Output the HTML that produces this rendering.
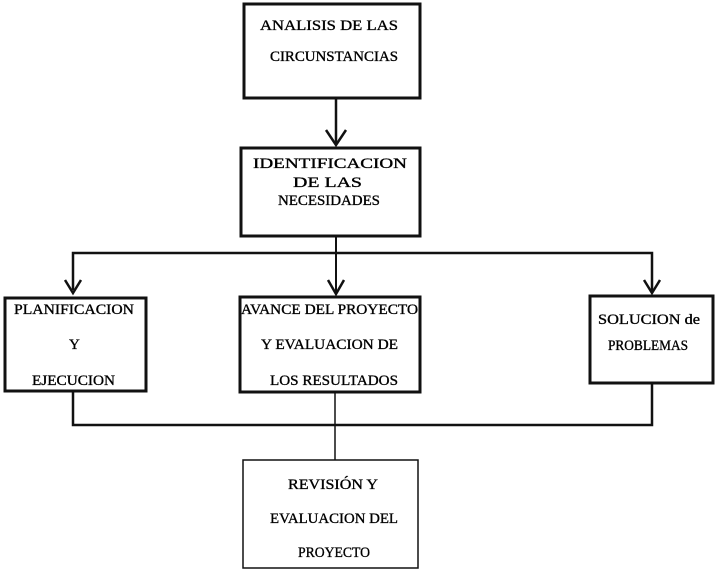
<!DOCTYPE html>
<html><head><meta charset="utf-8"><style>
html,body{margin:0;padding:0;background:#fff;}
svg text{font-family:"Liberation Serif",serif;font-size:15px;fill:#000;stroke:#000;stroke-width:0.35;}
</style></head><body>
<svg width="716" height="575" viewBox="0 0 716 575" xmlns="http://www.w3.org/2000/svg">
<g fill="none" stroke="#111">
<rect x="244" y="4" width="176" height="94" stroke-width="3"/>
<rect x="241" y="148" width="179" height="88" stroke-width="3"/>
<rect x="5" y="298" width="141" height="93" stroke-width="3"/>
<rect x="240" y="297" width="180" height="95" stroke-width="3"/>
<rect x="590" y="296" width="123" height="87" stroke-width="3"/>
<rect x="243" y="460" width="175" height="108" stroke-width="1.5"/>
<line x1="336" y1="98" x2="336" y2="145" stroke-width="2.5"/>
<polyline points="326,130 336,145 346,130" stroke-width="2.5"/>
<line x1="336" y1="236" x2="336" y2="294" stroke-width="2"/>
<polyline points="73,290 73,253 652,253 652,293" stroke-width="2.5"/>
<polyline points="65,280 73,293 81,280" stroke-width="2.5"/>
<polyline points="328,280 336,294 344,280" stroke-width="2.5"/>
<polyline points="644,280 652,293 660,280" stroke-width="2.5"/>
<polyline points="73,391 73,425 652,425 652,383" stroke-width="2.5"/>
<line x1="335" y1="392" x2="335" y2="460" stroke-width="1.5"/>
</g>
<text x="260" y="30" textLength="138" lengthAdjust="spacingAndGlyphs">ANALISIS DE LAS</text>
<text x="270" y="61" textLength="128" lengthAdjust="spacingAndGlyphs">CIRCUNSTANCIAS</text>
<text x="253" y="168" textLength="154" lengthAdjust="spacingAndGlyphs">IDENTIFICACION</text>
<text x="293" y="187" textLength="69" lengthAdjust="spacingAndGlyphs">DE LAS</text>
<text x="278" y="205" textLength="102" lengthAdjust="spacingAndGlyphs">NECESIDADES</text>
<text x="14" y="314" textLength="120" lengthAdjust="spacingAndGlyphs">PLANIFICACION</text>
<text x="69" y="349">Y</text>
<text x="32" y="385" textLength="83" lengthAdjust="spacingAndGlyphs">EJECUCION</text>
<text x="241" y="314" textLength="177" lengthAdjust="spacingAndGlyphs">AVANCE DEL PROYECTO</text>
<text x="261" y="349" textLength="137" lengthAdjust="spacingAndGlyphs">Y EVALUACION DE</text>
<text x="270" y="385" textLength="128" lengthAdjust="spacingAndGlyphs">LOS RESULTADOS</text>
<text x="598" y="324" textLength="102" lengthAdjust="spacingAndGlyphs">SOLUCION de</text>
<text x="608" y="350" textLength="80" lengthAdjust="spacingAndGlyphs">PROBLEMAS</text>
<text x="288" y="489" textLength="90" lengthAdjust="spacingAndGlyphs">REVISIÓN Y</text>
<text x="270" y="523" textLength="128" lengthAdjust="spacingAndGlyphs">EVALUACION DEL</text>
<text x="298" y="557" textLength="72" lengthAdjust="spacingAndGlyphs">PROYECTO</text>
</svg>
</body></html>
